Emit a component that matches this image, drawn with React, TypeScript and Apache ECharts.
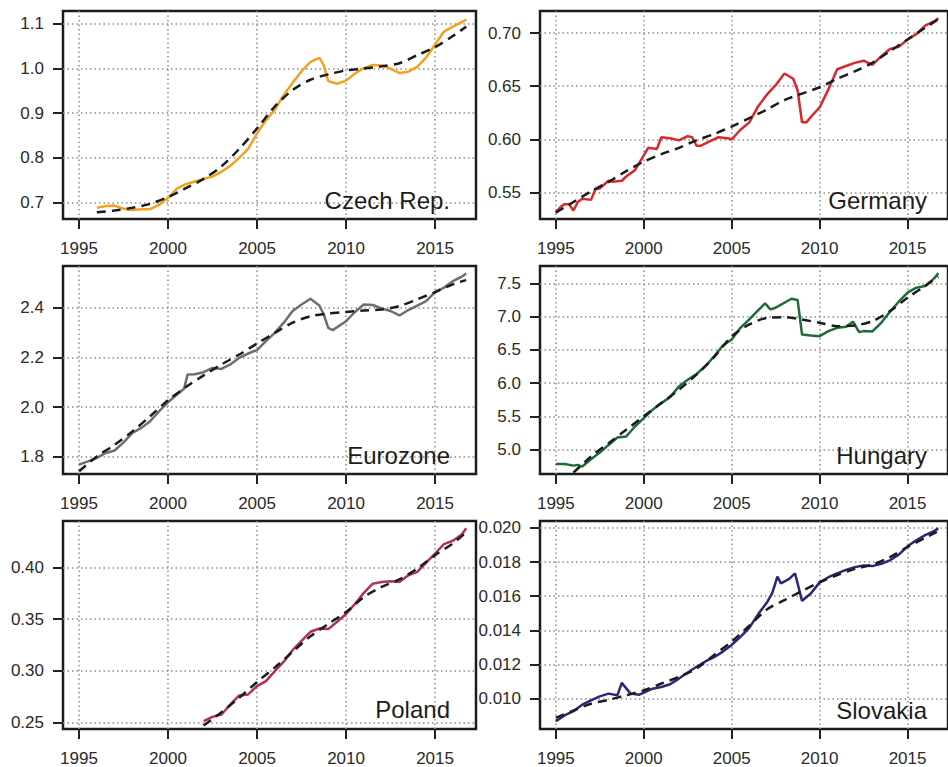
import React, { useEffect, useRef } from "react";
import * as echarts from "echarts";

// ---------- data ----------
const xTickYears = [1995, 2000, 2005, 2010, 2015];

const czechYears = [1996, 1996.5, 1997, 1997.5, 1998, 1998.5, 1999, 1999.5, 2000, 2000.5, 2001, 2001.5, 2002, 2002.5, 2003, 2003.5, 2004, 2004.5, 2005, 2005.5, 2006, 2006.5, 2007, 2007.5, 2008, 2008.5, 2008.75, 2009, 2009.5, 2010, 2010.5, 2011, 2011.5, 2012, 2012.5, 2013, 2013.5, 2014, 2014.5, 2015, 2015.5, 2016, 2016.5, 2016.75];
const czechValues = [0.688, 0.692, 0.693, 0.686, 0.683, 0.685, 0.685, 0.695, 0.71, 0.731, 0.741, 0.747, 0.753, 0.758, 0.769, 0.782, 0.8, 0.82, 0.855, 0.884, 0.908, 0.941, 0.968, 0.994, 1.015, 1.024, 1.007, 0.972, 0.966, 0.973, 0.989, 1.001, 1.008, 1.007, 1.0, 0.99, 0.993, 1.004, 1.025, 1.054, 1.083, 1.094, 1.104, 1.11];
const czechTrendYears = [1996, 1997, 1998, 1999, 2000, 2001, 2002, 2003, 2004, 2005, 2006, 2007, 2008, 2009, 2010, 2011, 2012, 2013, 2014, 2015, 2016, 2016.75];
const czechTrend = [0.678, 0.682, 0.688, 0.697, 0.712, 0.732, 0.753, 0.781, 0.82, 0.866, 0.915, 0.952, 0.975, 0.987, 0.996, 1.0, 1.005, 1.012, 1.03, 1.048, 1.073, 1.094];
const czechTicks = [0.7, 0.8, 0.9, 1.0, 1.1];

const germanyYears = [1995, 1995.25, 1995.5, 1995.75, 1996, 1996.25, 1996.5, 1997, 1997.25, 1997.5, 1998, 1998.25, 1998.75, 1999, 1999.5, 2000, 2000.25, 2000.75, 2001, 2001.5, 2002, 2002.5, 2002.75, 2003, 2003.25, 2003.75, 2004.25, 2004.75, 2005, 2005.5, 2006, 2006.5, 2007, 2007.5, 2008, 2008.5, 2008.75, 2009, 2009.25, 2009.5, 2010, 2010.5, 2011, 2011.5, 2012, 2012.5, 2013, 2013.5, 2014, 2014.5, 2015, 2015.5, 2016, 2016.5, 2016.75];
const germanyValues = [0.531, 0.536, 0.539, 0.539, 0.533, 0.541, 0.544, 0.543, 0.553, 0.554, 0.561, 0.56, 0.561, 0.565, 0.571, 0.585, 0.592, 0.591, 0.602, 0.601, 0.599, 0.603, 0.602, 0.594, 0.594, 0.598, 0.602, 0.601, 0.6, 0.609, 0.616, 0.631, 0.642, 0.651, 0.662, 0.657, 0.646, 0.616, 0.616, 0.621, 0.63, 0.647, 0.666, 0.669, 0.672, 0.674, 0.67, 0.678, 0.685, 0.687, 0.694, 0.699, 0.707, 0.711, 0.714];
const germanyTrendYears = [1995, 1996, 1997, 1998, 1999, 2000, 2001, 2002, 2003, 2004, 2005, 2006, 2007, 2008, 2009, 2010, 2011, 2012, 2013, 2014, 2015, 2016, 2016.75];
const germanyTrend = [0.531, 0.541, 0.551, 0.56, 0.57, 0.579, 0.586, 0.592, 0.599, 0.605, 0.612, 0.62, 0.628, 0.637, 0.643, 0.649, 0.657, 0.664, 0.672, 0.683, 0.694, 0.705, 0.713];
const germanyTicks = [0.55, 0.6, 0.65, 0.7];

const euroYears = [1995, 1995.5, 1996, 1996.5, 1997, 1997.5, 1998, 1998.5, 1999, 1999.5, 2000, 2000.5, 2000.9, 2001.1, 2001.5, 2002, 2002.5, 2003, 2003.5, 2004, 2004.5, 2005, 2005.5, 2006, 2006.5, 2007, 2007.5, 2008, 2008.5, 2008.75, 2009, 2009.25, 2010, 2010.5, 2011, 2011.5, 2012, 2012.5, 2013, 2013.5, 2014, 2014.5, 2015, 2015.5, 2016, 2016.5, 2016.75];
const euroValues = [1.769, 1.782, 1.796, 1.816, 1.826, 1.859, 1.897, 1.917, 1.944, 1.984, 2.02, 2.051, 2.074, 2.132, 2.133, 2.141, 2.158, 2.154, 2.172, 2.199, 2.216, 2.23, 2.266, 2.299, 2.34, 2.387, 2.413, 2.436, 2.409, 2.373, 2.319, 2.31, 2.346, 2.383, 2.413, 2.411, 2.397, 2.387, 2.369, 2.391, 2.409, 2.427, 2.463, 2.481, 2.507, 2.525, 2.538];
const euroTrendYears = [1995, 1996, 1997, 1998, 1999, 2000, 2001, 2002, 2003, 2004, 2005, 2006, 2007, 2008, 2009, 2010, 2011, 2012, 2013, 2014, 2015, 2016, 2016.75];
const euroTrend = [1.742, 1.802, 1.849, 1.903, 1.964, 2.028, 2.081, 2.128, 2.172, 2.212, 2.256, 2.299, 2.34, 2.366, 2.377, 2.383, 2.389, 2.393, 2.407, 2.434, 2.463, 2.494, 2.511];
const euroTicks = [1.8, 2.0, 2.2, 2.4];

const hungaryYears = [1995, 1995.5, 1996, 1996.25, 1996.5, 1997, 1997.5, 1998, 1998.5, 1999, 1999.5, 2000, 2000.5, 2001, 2001.5, 2002, 2002.5, 2003, 2003.5, 2004, 2004.5, 2005, 2005.5, 2006, 2006.5, 2006.9, 2007.2, 2007.5, 2008, 2008.4, 2008.75, 2009, 2009.5, 2010, 2010.5, 2011, 2011.5, 2011.9, 2012.25, 2012.5, 2013, 2013.5, 2014, 2014.5, 2015, 2015.5, 2016, 2016.5, 2016.75];
const hungaryValues = [4.784, 4.784, 4.759, 4.77, 4.745, 4.855, 4.955, 5.07, 5.181, 5.196, 5.347, 5.473, 5.598, 5.699, 5.789, 5.95, 6.05, 6.136, 6.252, 6.403, 6.564, 6.655, 6.831, 6.957, 7.093, 7.198, 7.107, 7.133, 7.208, 7.268, 7.248, 6.73, 6.715, 6.705, 6.781, 6.831, 6.846, 6.922, 6.766, 6.781, 6.776, 6.906, 7.072, 7.223, 7.359, 7.434, 7.459, 7.57, 7.651];
const hungaryTrendYears = [1996, 1997, 1998, 1999, 2000, 2001, 2002, 2003, 2004, 2005, 2006, 2007, 2008, 2009, 2010, 2011, 2012, 2013, 2014, 2015, 2016, 2016.75];
const hungaryTrend = [4.653, 4.895, 5.096, 5.297, 5.5, 5.699, 5.9, 6.127, 6.39, 6.7, 6.881, 6.98, 6.99, 6.956, 6.906, 6.856, 6.866, 6.931, 7.082, 7.284, 7.46, 7.601];
const hungaryTicks = [5.0, 5.5, 6.0, 6.5, 7.0, 7.5];

const polandYears = [2002, 2002.5, 2003, 2003.5, 2004, 2004.5, 2005, 2005.5, 2006, 2006.5, 2007, 2007.5, 2008, 2008.5, 2009, 2009.5, 2010, 2010.5, 2011, 2011.5, 2012, 2012.5, 2013, 2013.5, 2014, 2014.5, 2015, 2015.5, 2016, 2016.5, 2016.75];
const polandValues = [0.2513, 0.2555, 0.2578, 0.2675, 0.2762, 0.2772, 0.2853, 0.29, 0.2997, 0.3088, 0.3201, 0.329, 0.3377, 0.3409, 0.3403, 0.3474, 0.3549, 0.3646, 0.3753, 0.3841, 0.3857, 0.3864, 0.3857, 0.3922, 0.3955, 0.4045, 0.4133, 0.4224, 0.4256, 0.4317, 0.4376];
const polandTrendYears = [2002, 2003, 2004, 2005, 2006, 2007, 2008, 2009, 2010, 2011, 2012, 2013, 2014, 2015, 2016, 2016.75];
const polandTrend = [0.2471, 0.26, 0.274, 0.2892, 0.3032, 0.3184, 0.3333, 0.3453, 0.3567, 0.3713, 0.381, 0.3884, 0.3987, 0.4117, 0.423, 0.4337];
const polandTicks = [0.25, 0.3, 0.35, 0.4];

const slovakiaYears = [1995, 1995.5, 1996, 1996.5, 1997, 1997.5, 1998, 1998.5, 1998.75, 1999.25, 1999.75, 2000.5, 2001, 2001.5, 2002, 2002.5, 2003, 2003.5, 2004, 2004.5, 2005, 2005.5, 2006, 2006.5, 2007, 2007.3, 2007.6, 2007.8, 2008.25, 2008.6, 2009, 2009.5, 2010, 2010.5, 2011, 2011.5, 2012, 2012.5, 2013, 2013.5, 2014, 2014.5, 2015, 2015.5, 2016, 2016.5, 2016.75];
const slovakiaValues = [0.00868, 0.00902, 0.00927, 0.00965, 0.0099, 0.01014, 0.0103, 0.0102, 0.01093, 0.0103, 0.01024, 0.01059, 0.01069, 0.01085, 0.01118, 0.01154, 0.01187, 0.01218, 0.01243, 0.01276, 0.01315, 0.01362, 0.01415, 0.01494, 0.01563, 0.01616, 0.01715, 0.01675, 0.017, 0.01734, 0.01573, 0.01616, 0.01681, 0.01711, 0.01734, 0.01754, 0.0177, 0.0178, 0.01776, 0.0179, 0.0181, 0.01843, 0.01892, 0.01927, 0.01957, 0.01981, 0.01997];
const slovakiaTrendYears = [1995, 1996, 1997, 1998, 1999, 2000, 2001, 2002, 2003, 2004, 2005, 2006, 2007, 2008, 2009, 2010, 2011, 2012, 2013, 2014, 2015, 2016, 2016.75];
const slovakiaTrend = [0.00888, 0.00931, 0.00971, 0.00994, 0.0102, 0.01049, 0.01089, 0.01128, 0.01177, 0.01256, 0.01335, 0.01427, 0.01522, 0.01577, 0.01631, 0.01681, 0.01724, 0.0176, 0.01785, 0.01829, 0.01888, 0.01941, 0.01981];
const slovakiaTicks = [0.01, 0.012, 0.014, 0.016, 0.018, 0.02];

// ---------- layout ----------
const FONT = "'Liberation Sans', Arial, Helvetica, sans-serif";
const X_MIN = 1994.1;
const X_MAX = 2017.3;
const GRID_W = 413;
const GRID_H = 208;

const zip = (xs: number[], ys: number[]) => xs.map((x, i) => [x, ys[i]]);

const panels = [
  { name: "Czech Rep.", color: "#F2A21E", years: czechYears, values: czechValues, tYears: czechTrendYears, trend: czechTrend, ticks: czechTicks, dec: 1, yMin: 0.663, yMax: 1.129, left: 63, top: 11, labelY: 200 },
  { name: "Germany", color: "#D7282F", years: germanyYears, values: germanyValues, tYears: germanyTrendYears, trend: germanyTrend, ticks: germanyTicks, dec: 2, yMin: 0.525, yMax: 0.7208, left: 540, top: 11, labelY: 200 },
  { name: "Eurozone", color: "#6E6E6E", years: euroYears, values: euroValues, tYears: euroTrendYears, trend: euroTrend, ticks: euroTicks, dec: 1, yMin: 1.7315, yMax: 2.568, left: 63, top: 266, labelY: 455 },
  { name: "Hungary", color: "#1E6B38", years: hungaryYears, values: hungaryValues, tYears: hungaryTrendYears, trend: hungaryTrend, ticks: hungaryTicks, dec: 1, yMin: 4.633, yMax: 7.76, left: 540, top: 266, labelY: 455 },
  { name: "Poland", color: "#B0305C", years: polandYears, values: polandValues, tYears: polandTrendYears, trend: polandTrend, ticks: polandTicks, dec: 2, yMin: 0.2438, yMax: 0.4447, left: 63, top: 521, labelY: 709 },
  { name: "Slovakia", color: "#28287A", years: slovakiaYears, values: slovakiaValues, tYears: slovakiaTrendYears, trend: slovakiaTrend, ticks: slovakiaTicks, dec: 3, yMin: 0.00823, yMax: 0.0204, left: 540, top: 521, labelY: 710 },
];

export default function App() {
  const ref = useRef<HTMLDivElement>(null);
  useEffect(() => {
    if (!ref.current) return;
    const chart = echarts.init(ref.current, null, { renderer: "svg" });
    const grid = panels.map((p) => ({
      left: p.left,
      top: p.top,
      width: GRID_W,
      height: GRID_H,
      show: true,
      borderColor: "#1c1c1c",
      borderWidth: 2.5,
      backgroundColor: "transparent",
      containLabel: false,
    }));
    const splitStyle = { show: true, lineStyle: { type: [1.5, 3], color: "#8c8c8c", width: 1.5 } };
    const xAxis = panels.map((p, i) => ({
      type: "value",
      gridIndex: i,
      min: X_MIN,
      max: X_MAX,
      axisLine: { show: false },
      axisTick: { show: true, length: 10, lineStyle: { color: "#222", width: 2 }, customValues: xTickYears },
      axisLabel: { customValues: xTickYears, margin: 21, fontSize: 17, color: "#2a2a2a", fontFamily: FONT, formatter: (v: number) => String(Math.round(v)) },
      splitLine: splitStyle,
    }));
    const yAxis = panels.map((p, i) => ({
      type: "value",
      gridIndex: i,
      min: p.yMin,
      max: p.yMax,
      axisLine: { show: false },
      axisTick: { show: true, length: 10, lineStyle: { color: "#222", width: 2 }, customValues: p.ticks },
      axisLabel: { customValues: p.ticks, margin: 19, fontSize: 17, color: "#2a2a2a", fontFamily: FONT, formatter: (v: number) => v.toFixed(p.dec) },
      splitLine: splitStyle,
    }));
    const series: any[] = [];
    panels.forEach((p, i) => {
      series.push({
        type: "line",
        name: p.name,
        xAxisIndex: i,
        yAxisIndex: i,
        data: zip(p.years, p.values),
        showSymbol: false,
        lineStyle: { color: p.color, width: 2.5 },
        z: 3,
      });
      series.push({
        type: "line",
        name: p.name + " trend",
        xAxisIndex: i,
        yAxisIndex: i,
        data: zip(p.tYears, p.trend),
        showSymbol: false,
        smooth: 0.3,
        lineStyle: { color: "#1c1c1c", width: 2.5, type: [9, 6] },
        z: 4,
      });
    });
    const graphic = panels.map((p) => ({
      type: "text",
      x: p.left + GRID_W - 26,
      y: p.labelY,
      z: 10,
      style: { text: p.name, fontSize: 24, fontFamily: FONT, fill: "#1c1c1c", align: "right", verticalAlign: "middle" },
    }));
    chart.setOption({
      animation: false,
      backgroundColor: "#ffffff",
      grid,
      xAxis,
      yAxis,
      series,
      graphic,
    });
    return () => chart.dispose();
  }, []);
  return <div ref={ref} style={{ position: "absolute", left: 0, top: 0, width: 948, height: 767 }} />;
}
